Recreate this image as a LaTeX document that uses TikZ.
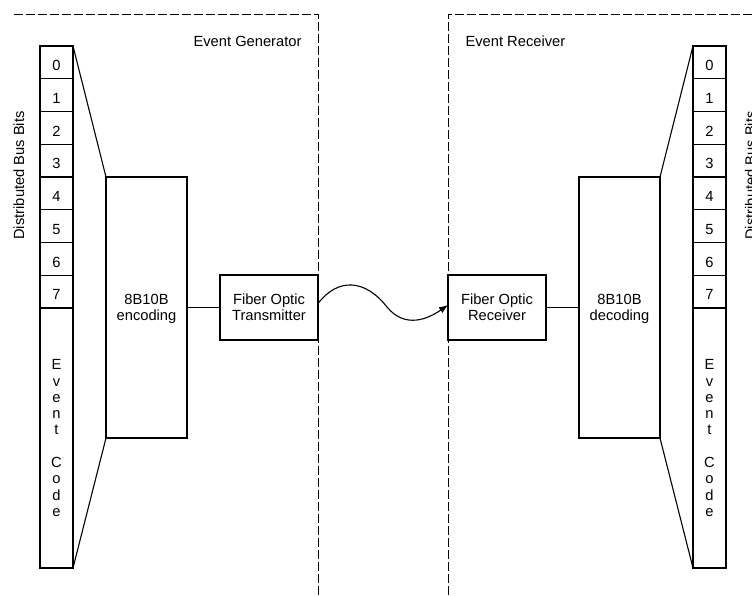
\documentclass[tikz,border=0pt]{standalone}
\usepackage{fontspec}
\setmainfont{Liberation Sans}
\usetikzlibrary{arrows.meta}

\newcommand{\upstrut}{\rule{0pt}{16.5pt}}
\tikzset{
  blk/.style={draw, inner sep=0pt, outer sep=0pt, align=center, text depth=0pt,
    execute at begin node=\upstrut, font=\fontsize{14.7}{16.3}\selectfont},
  bitcell/.style={blk, minimum width=33pt, minimum height=32.75pt},
  frame/.style={line width=0.9pt, dash pattern=on 9pt off 3pt},
  lbl/.style={inner sep=0pt, font=\fontsize{14.7}{16.3}\selectfont}
}

\begin{document}
\begin{tikzpicture}[x=1pt, y=-1pt, line width=1.1pt]
  \useasboundingbox (0,0) rectangle (752,596);

  % Dashed frames
  \draw[frame] (14,14) -- (318,14) -- (318,596);
  \draw[frame] (752,14) -- (448,14) -- (448,596);
  \node[lbl, anchor=base east] (genlbl) at (302,46.5) {Event Generator};
  \node[lbl, anchor=base west] (reclbl) at (465,46.5) {Event Receiver};

  % Bus bits
  \foreach \i in {0,...,7}{
    \node[bitcell] (lb\i) at (56.5,{46+32.75*(\i+0.5)}) {\i};
    \node[bitcell] (rb\i) at (709.5,{46+32.75*(\i+0.5)}) {\i};
  }
  \node[bitcell, minimum height=260pt] (lcode) at (56.5,438) {E\\v\\e\\n\\t\\~\\C\\o\\d\\e};
  \node[bitcell, minimum height=260pt] (rcode) at (709.5,438) {E\\v\\e\\n\\t\\~\\C\\o\\d\\e};
  \node[lbl, rotate=90, anchor=base] (lbits) at (24,175.5) {Distributed Bus Bits};
  \node[lbl, rotate=90, anchor=base] (rbits) at (755.7,175.5) {Distributed Bus Bits};

  % Coder and fiber boxes
  \node[blk, minimum width=81pt, minimum height=261pt] (enc) at (146.5,307.5) {8B10B\\encoding};
  \node[blk, minimum width=98pt, minimum height=65pt] (tx) at (269,307.5) {Fiber Optic\\Transmitter};
  \node[blk, minimum width=98pt, minimum height=65pt] (rx) at (497,307.5) {Fiber Optic\\Receiver};
  \node[blk, minimum width=81pt, minimum height=261pt] (dec) at (619.5,307.5) {8B10B\\decoding};

  % Connect the nodes
  \draw (lb0.north east) -- (enc.north west);
  \draw (lcode.south east) -- (enc.south west);
  \draw (enc) -- (tx);
  \draw (rx) -- (dec);
  \draw (dec.north east) -- (rb0.north west);
  \draw (dec.south east) -- (rcode.south west);

  % Fiber link
  \coordinate (fib) at (387,307);
  \draw[-{Latex[length=9pt,width=7pt]}] ([yshift=4pt]tx.east)
    .. controls +(20,-26) and +(-22,-28) .. (fib)
    .. controls +(18,22) and +(-20,14) .. ([yshift=2.5pt]rx.west);
\end{tikzpicture}
\end{document}
